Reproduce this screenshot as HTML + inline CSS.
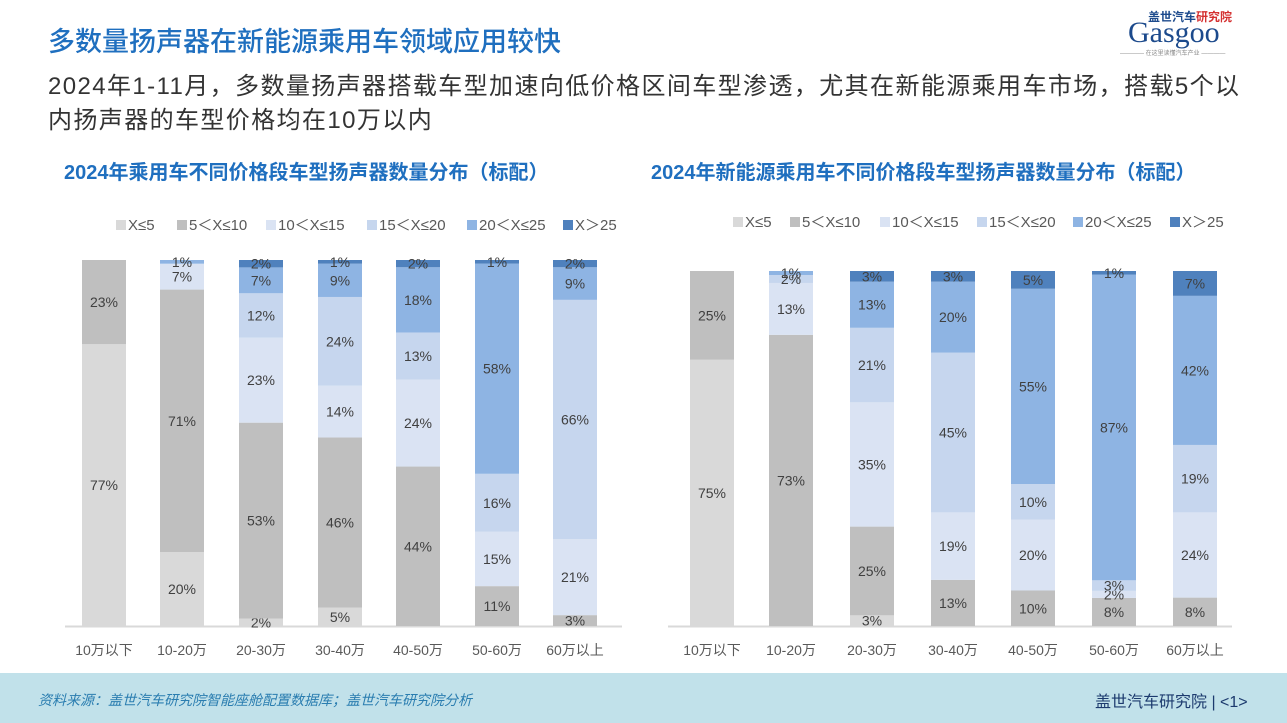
<!DOCTYPE html>
<html><head><meta charset="utf-8"><style>
body{margin:0;width:1287px;height:723px;overflow:hidden;background:#fff;font-family:"Liberation Sans","Noto Sans CJK SC",sans-serif;position:relative}
.t{position:absolute;white-space:nowrap}
</style></head><body>
<div class="t" style="left:48px;top:20px;font-size:27px;color:#1f6fbf;font-weight:500">多数量扬声器在新能源乘用车领域应用较快</div>
<div class="t" style="left:1120px;top:8px;font-size:12px;color:#1c4a8c;font-weight:bold"><span style="margin-left:28px">盖世汽车<span style="color:#d43030">研究院</span></span></div>
<div class="t" style="left:1128px;top:16px;font-size:30px;color:#1c4a8c;font-family:'Liberation Serif',serif">Gasgoo</div>
<div class="t" style="left:1120px;top:48px;font-size:6px;color:#888">———— 在这里读懂汽车产业 ————</div>
<div class="t" style="left:48px;top:70px;font-size:24px;letter-spacing:1.4px;color:#333;line-height:34px">2024年1-11月，多数量扬声器搭载车型加速向低价格区间车型渗透，尤其在新能源乘用车市场，搭载5个以<br>内扬声器的车型价格均在10万以内</div>
<div class="t" style="left:64px;top:156px;font-size:20px;color:#1f6fbf;font-weight:bold">2024年乘用车不同价格段车型扬声器数量分布（标配）</div>
<div class="t" style="left:651px;top:156px;font-size:20px;color:#1f6fbf;font-weight:bold">2024年新能源乘用车不同价格段车型扬声器数量分布（标配）</div>
<svg id="s" width="1287" height="723" style="position:absolute;left:0;top:0"></svg>
<div style="position:absolute;left:0;top:673px;width:1287px;height:50px;background:#c1e1ea"></div>
<div class="t" style="left:38px;top:690px;font-size:14px;color:#2a7db0;font-style:italic">资料来源：盖世汽车研究院智能座舱配置数据库；盖世汽车研究院分析</div>
<div class="t" style="left:1095px;top:688px;font-size:16px;color:#1c3a6e">盖世汽车研究院 | &lt;1&gt;</div>
<script>
var C=['#d9d9d9','#bfbfbf','#dae3f3','#c6d6ee','#8eb4e3','#4f81bd'];
var N=['X≤5','5＜X≤10','10＜X≤15','15＜X≤20','20＜X≤25','X＞25'];
var cats=['10万以下','10-20万','20-30万','30-40万','40-50万','50-60万','60万以上'];
var d1=[[77,23,0,0,0,0],[20,71,7,0,1,0],[2,53,23,12,7,2],[5,46,14,24,9,1],[0,44,24,13,18,2],[0,11,15,16,58,1],[0,3,21,66,9,2]];
var d2=[[75,25,0,0,0,0],[0,73,13,2,1,0],[3,25,35,21,13,3],[0,13,19,45,20,3],[0,10,20,10,55,5],[0,8,2,3,87,1],[0,8,24,19,42,7]];
var s='';
function ch(d,xs,top,bot,lxs,ly,ax0,ax1){
 s+='<line x1="'+ax0+'" y1="'+(bot+0.5)+'" x2="'+ax1+'" y2="'+(bot+0.5)+'" stroke="#d9d9d9" stroke-width="2"/>';
 for(var i=0;i<6;i++){var lp=lxs[i];s+='<rect x="'+lp+'" y="'+(ly-5)+'" width="10" height="10" fill="'+C[i]+'"/><text x="'+(lp+12)+'" y="'+(ly+5)+'" font-size="15" fill="#595959">'+N[i]+'</text>';}
 d.forEach(function(r,j){var sum=r.reduce(function(a,b){return a+b});var y=bot;var x=xs[j]-22;
  r.forEach(function(v,i){if(!v)return;var h=v/sum*(bot-top);y-=h;
   s+='<rect x="'+x+'" y="'+y+'" width="44" height="'+h+'" fill="'+C[i]+'"/>';
   s+='<text x="'+xs[j]+'" y="'+(y+h/2+5)+'" font-size="14" fill="#404040" text-anchor="middle">'+v+'%</text>';});
  s+='<text x="'+xs[j]+'" y="'+(bot+29)+'" font-size="14" fill="#595959" text-anchor="middle">'+cats[j]+'</text>';});
}
ch(d1,[104,182,261,340,418,497,575],260,626,[116,177,266,367,467,563],225,65,622);
ch(d2,[712,791,872,953,1033,1114,1195],271,626,[733,790,880,977,1073,1170],222,668,1232);
document.getElementById('s').innerHTML=s;
</script>
</body></html>
